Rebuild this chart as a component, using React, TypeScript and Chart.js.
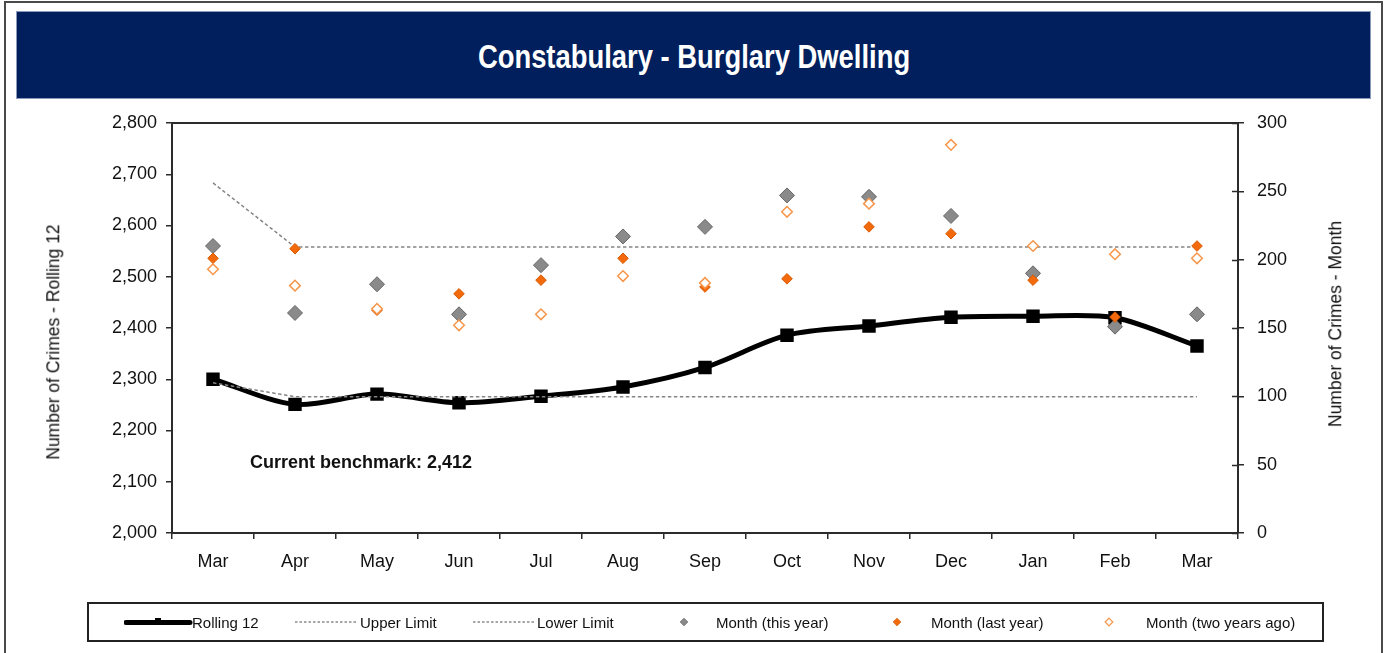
import React, { useEffect, useRef } from 'react';
import { Chart, registerables } from 'chart.js';

Chart.register(...registerables);

const months = ['Mar', 'Apr', 'May', 'Jun', 'Jul', 'Aug', 'Sep', 'Oct', 'Nov', 'Dec', 'Jan', 'Feb', 'Mar'];
const rolling12 = [2300, 2251, 2271, 2254, 2267, 2285, 2323, 2386, 2404, 2421, 2423, 2420, 2365];
const upperLimit = [2683, 2558, 2558, 2558, 2558, 2558, 2558, 2558, 2558, 2558, 2558, 2558, 2558];
const lowerLimit = [2293, 2266, 2266, 2266, 2266, 2266, 2266, 2266, 2266, 2266, 2266, 2266, 2266];
const monthThisYear = [210, 161, 182, 160, 196, 217, 224, 247, 246, 232, 190, 151, 160];
const monthLastYear = [201, 208, 163, 175, 185, 201, 180, 186, 224, 219, 185, 158, 210];
const monthTwoYearsAgo = [193, 181, 164, 152, 160, 188, 183, 235, 241, 284, 210, 204, 201];

const leftMin = 2000;
const leftMax = 2800;
const leftStep = 100;
const rightMin = 0;
const rightMax = 300;
const rightStep = 50;

const title = 'Constabulary - Burglary Dwelling';
const leftTitle = 'Number of Crimes - Rolling 12';
const rightTitle = 'Number of Crimes - Month';
const benchmarkText = 'Current benchmark: 2,412';

const FONT = '"Liberation Sans", Arial, Helvetica, sans-serif';
const AXIS = '#2b2b2b';

const framePlugin = {
  id: 'frameTop',
  afterDatasetsDraw(chart: any) {
    const { ctx, chartArea } = chart;
    ctx.save();
    ctx.strokeStyle = AXIS;
    ctx.lineWidth = 2;
    ctx.beginPath();
    ctx.moveTo(chartArea.left - 1, chartArea.top);
    ctx.lineTo(chartArea.right + 1, chartArea.top);
    ctx.stroke();
    const y1 = chart.scales.y1;
    ctx.lineWidth = 1.5;
    ctx.beginPath();
    y1.ticks.forEach((_t: any, i: number) => {
      const py = Math.round(y1.getPixelForTick(i)) + 0.5;
      ctx.moveTo(chartArea.right - 6, py);
      ctx.lineTo(chartArea.right, py);
    });
    ctx.stroke();
    ctx.restore();
  },
};

function ChartCanvas() {
  const ref = useRef<HTMLCanvasElement | null>(null);
  useEffect(() => {
    if (!ref.current) return;
    const chart = new Chart(ref.current, {
      type: 'line',
      data: {
        labels: months,
        datasets: [
          {
            label: 'Rolling 12',
            data: rolling12,
            yAxisID: 'y',
            borderColor: '#000',
            borderWidth: 5,
            tension: 0.3,
            pointStyle: 'rect',
            pointRadius: 9.5,
            pointBackgroundColor: '#000',
            pointBorderColor: '#000',
            pointBorderWidth: 0,
            order: 6,
          },
          {
            label: 'Upper Limit',
            data: upperLimit,
            yAxisID: 'y',
            borderColor: '#858585',
            borderWidth: 1.5,
            borderDash: [3.5, 2.5],
            pointRadius: 0,
            tension: 0,
            order: 5,
          },
          {
            label: 'Lower Limit',
            data: lowerLimit,
            yAxisID: 'y',
            borderColor: '#858585',
            borderWidth: 1.5,
            borderDash: [3.5, 2.5],
            pointRadius: 0,
            tension: 0,
            order: 4,
          },
          {
            label: 'Month (this year)',
            data: monthThisYear,
            yAxisID: 'y1',
            showLine: false,
            pointStyle: 'rectRot',
            pointRadius: 7.5,
            pointBackgroundColor: '#8a8a8a',
            pointBorderColor: '#666',
            pointBorderWidth: 1,
            order: 3,
          },
          {
            label: 'Month (last year)',
            data: monthLastYear,
            yAxisID: 'y1',
            showLine: false,
            pointStyle: 'rectRot',
            pointRadius: 5.3,
            pointBackgroundColor: '#F26A0C',
            pointBorderColor: '#D95A02',
            pointBorderWidth: 1,
            order: 2,
          },
          {
            label: 'Month (two years ago)',
            data: monthTwoYearsAgo,
            yAxisID: 'y1',
            showLine: false,
            pointStyle: 'rectRot',
            pointRadius: 5.3,
            pointBackgroundColor: '#ffffff',
            pointBorderColor: '#F7964A',
            pointBorderWidth: 1.5,
            order: 1,
          },
        ],
      },
      options: {
        responsive: false,
        animation: false,
        layout: { padding: { left: 112, right: 88, top: 123, bottom: 80 } },
        plugins: { legend: { display: false }, tooltip: { enabled: false } },
        scales: {
          x: {
            type: 'category',
            offset: true,
            grid: {
              display: true,
              drawOnChartArea: false,
              drawTicks: true,
              tickLength: 6,
              color: AXIS,
              lineWidth: 1.5,
              offset: true,
            },
            border: { display: true, color: AXIS, width: 2 },
            ticks: {
              font: { family: FONT, size: 18 },
              color: '#111',
              padding: 12,
              maxRotation: 0,
              autoSkip: false,
            },
            afterFit: (s: any) => {
              s.height = 40;
            },
          },
          y: {
            type: 'linear',
            position: 'left',
            min: leftMin,
            max: leftMax,
            grid: {
              display: true,
              drawOnChartArea: false,
              drawTicks: true,
              tickLength: 6,
              color: AXIS,
              lineWidth: 1.5,
            },
            border: { display: true, color: AXIS, width: 2 },
            ticks: {
              stepSize: leftStep,
              font: { family: FONT, size: 18 },
              color: '#111',
              padding: 9,
              callback: (v: any) => Number(v).toLocaleString('en-US'),
            },
            afterFit: (s: any) => {
              s.width = 60;
            },
          },
          y1: {
            type: 'linear',
            position: 'right',
            min: rightMin,
            max: rightMax,
            grid: {
              display: true,
              drawOnChartArea: false,
              drawTicks: true,
              tickLength: 6,
              color: AXIS,
              lineWidth: 1.5,
            },
            border: { display: true, color: AXIS, width: 2 },
            ticks: {
              stepSize: rightStep,
              font: { family: FONT, size: 18 },
              color: '#111',
              padding: 13,
            },
            afterFit: (s: any) => {
              s.width = 60;
            },
          },
        },
      },
      plugins: [framePlugin],
    } as any);
    return () => chart.destroy();
  }, []);
  return (
    <canvas
      ref={ref}
      width={1386}
      height={653}
      style={{ position: 'absolute', left: 0, top: 0, width: 1386, height: 653 }}
    />
  );
}

function Diamond({ fill, stroke, sw }: { fill: string; stroke: string; sw: number }) {
  return (
    <svg width={10} height={10} style={{ position: 'absolute', left: -5, top: -5 }}>
      <polygon points="5,1.2 8.8,5 5,8.8 1.2,5" fill={fill} stroke={stroke} strokeWidth={sw} />
    </svg>
  );
}

function LegendItem({ x, children }: { x: number; children: React.ReactNode }) {
  return (
    <div
      style={{
        position: 'absolute',
        left: x,
        top: 622,
        transform: 'translateY(-50%)',
        fontFamily: FONT,
        fontSize: 15,
        color: '#111',
        whiteSpace: 'nowrap',
        lineHeight: 1,
      }}
    >
      {children}
    </div>
  );
}

export default function App() {
  return (
    <div
      style={{
        position: 'absolute',
        left: 0,
        top: 0,
        width: 1386,
        height: 653,
        overflow: 'hidden',
        background: '#fff',
      }}
    >
      <div
        style={{
          position: 'absolute',
          left: 4,
          top: 1,
          width: 1375,
          height: 720,
          border: '2px solid #4a4a4a',
        }}
      />
      <div
        style={{
          position: 'absolute',
          left: 16,
          top: 11,
          width: 1353,
          height: 86,
          background: '#001F5C',
          border: '1px solid #8a9ab8',
          overflow: 'hidden',
        }}
      >
        <div
          style={{
            position: 'absolute',
            left: '50%',
            top: 44,
            transform: 'translate(-50%, -50%) scaleX(0.83)',
            color: '#fff',
            fontFamily: FONT,
            fontWeight: 'bold',
            fontSize: 33,
            whiteSpace: 'nowrap',
            lineHeight: 1,
          }}
        >
          {title}
        </div>
      </div>
      <ChartCanvas />
      <div
        style={{
          position: 'absolute',
          left: 54,
          top: 342,
          transform: 'translate(-50%, -50%) rotate(-90deg)',
          fontFamily: FONT,
          fontSize: 17.5,
          color: '#111',
          whiteSpace: 'nowrap',
          lineHeight: 1,
        }}
      >
        {leftTitle}
      </div>
      <div
        style={{
          position: 'absolute',
          left: 1336,
          top: 324,
          transform: 'translate(-50%, -50%) rotate(-90deg)',
          fontFamily: FONT,
          fontSize: 17.5,
          color: '#111',
          whiteSpace: 'nowrap',
          lineHeight: 1,
        }}
      >
        {rightTitle}
      </div>
      <div
        style={{
          position: 'absolute',
          left: 250,
          top: 462,
          transform: 'translateY(-50%)',
          fontFamily: FONT,
          fontSize: 18,
          fontWeight: 'bold',
          color: '#111',
          whiteSpace: 'nowrap',
          lineHeight: 1,
        }}
      >
        {benchmarkText}
      </div>
      <div
        style={{
          position: 'absolute',
          left: 87,
          top: 602,
          width: 1233,
          height: 36,
          border: '2px solid #222',
        }}
      />
      <svg width={70} height={14} style={{ position: 'absolute', left: 124, top: 615 }}>
        <line x1={2} y1={7.5} x2={66} y2={7.5} stroke="#000" strokeWidth={5} strokeLinecap="round" />
        <rect x={31} y={3} width={6} height={7} fill="#000" />
      </svg>
      <LegendItem x={192}>Rolling 12</LegendItem>
      <svg width={64} height={6} style={{ position: 'absolute', left: 295, top: 619 }}>
        <line x1={0} y1={3} x2={62} y2={3} stroke="#8a8a8a" strokeWidth={1.3} strokeDasharray="2.5 2" />
      </svg>
      <LegendItem x={360}>Upper Limit</LegendItem>
      <svg width={64} height={6} style={{ position: 'absolute', left: 473, top: 619 }}>
        <line x1={0} y1={3} x2={62} y2={3} stroke="#8a8a8a" strokeWidth={1.3} strokeDasharray="2.5 2" />
      </svg>
      <LegendItem x={537}>Lower Limit</LegendItem>
      <div style={{ position: 'absolute', left: 684, top: 622 }}>
        <Diamond fill="#8a8a8a" stroke="#666" sw={0.8} />
      </div>
      <LegendItem x={716}>Month (this year)</LegendItem>
      <div style={{ position: 'absolute', left: 897, top: 622 }}>
        <Diamond fill="#F26A0C" stroke="#D95A02" sw={0.8} />
      </div>
      <LegendItem x={931}>Month (last year)</LegendItem>
      <div style={{ position: 'absolute', left: 1109, top: 622 }}>
        <Diamond fill="#fff" stroke="#F7964A" sw={1.2} />
      </div>
      <LegendItem x={1146}>Month (two years ago)</LegendItem>
    </div>
  );
}
